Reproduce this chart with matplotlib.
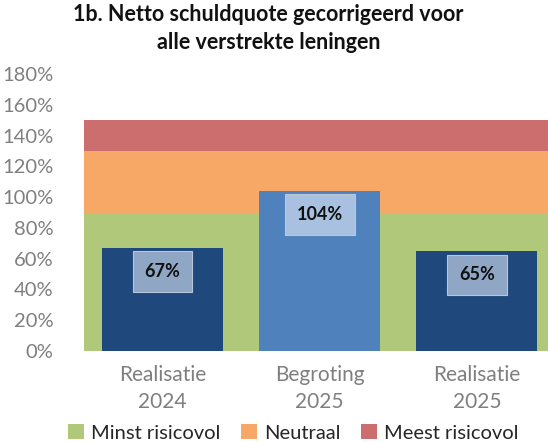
import numpy as np
import matplotlib.pyplot as plt

categories = ["Realisatie\n2024", "Begroting\n2025", "Realisatie\n2025"]
values = [67, 104, 65]
bar_colors = ["#1F497D", "#4F81BD", "#1F497D"]
box_colors = ["#8FA6C4", "#A9C1E0", "#8FA6C4"]

band_names = ["Minst risicovol", "Neutraal", "Meest risicovol"]
band_heights = [90, 40, 20]
band_colors = ["#AFC87A", "#F7A866", "#CC6E6E"]

plt.rcParams['font.family'] = ['Lato', 'DejaVu Sans']

fig = plt.figure(figsize=(5.48, 4.42), dpi=100)
ax = fig.add_axes([84 / 548, 91 / 442, 471.5 / 548, 277 / 442])

x = np.arange(len(categories))

# background bands as stacked full-width bars
bottom = np.zeros(len(categories))
handles = []
for name, h, c in zip(band_names, band_heights, band_colors):
    b = ax.bar(x, [h] * len(x), bottom=bottom, width=1.0, color=c, label=name, zorder=1)
    handles.append(b)
    bottom += h

ax.bar(x, values, width=0.77, color=bar_colors, zorder=2)

for xi, v, bc in zip(x, values, box_colors):
    ax.annotate(f"{v}%", (xi, v), xytext=(0, -11), textcoords="offset points",
                ha="center", va="top", fontsize=13, fontweight="bold", color="#111111",
                bbox=dict(boxstyle="square,pad=0.65", fc=bc, ec="#B7C6DA", lw=0.8), zorder=3)

ax.set_xlim(-0.5, 2.5)
ax.set_ylim(0, 180)
ax.set_yticks(np.arange(0, 181, 20))
ax.set_yticklabels([f"{t}%" for t in range(0, 181, 20)])
ax.set_xticks(x)
ax.set_xticklabels(categories, linespacing=1.45)
ax.tick_params(axis="y", length=0, labelsize=14.5, labelcolor="#7F7F7F", pad=22)
ax.tick_params(axis="x", length=0, labelsize=15, labelcolor="#7F7F7F", pad=10)
for s in ax.spines.values():
    s.set_visible(False)

fig.text(0.49, 0.99, "1b. Netto schuldquote gecorrigeerd voor\nalle verstrekte leningen",
         ha="center", va="top", fontsize=15.5, fontweight="bold", color="#111111",
         linespacing=1.4)

fig.legend(handles=handles, labels=band_names, loc="lower center",
           bbox_to_anchor=(0.535, -0.04), ncol=3, frameon=False, fontsize=14.5,
           handlelength=0.8, handleheight=0.8, handletextpad=0.35, columnspacing=1.0,
           labelcolor="#262626")

fig.savefig("out.png", dpi=100)
